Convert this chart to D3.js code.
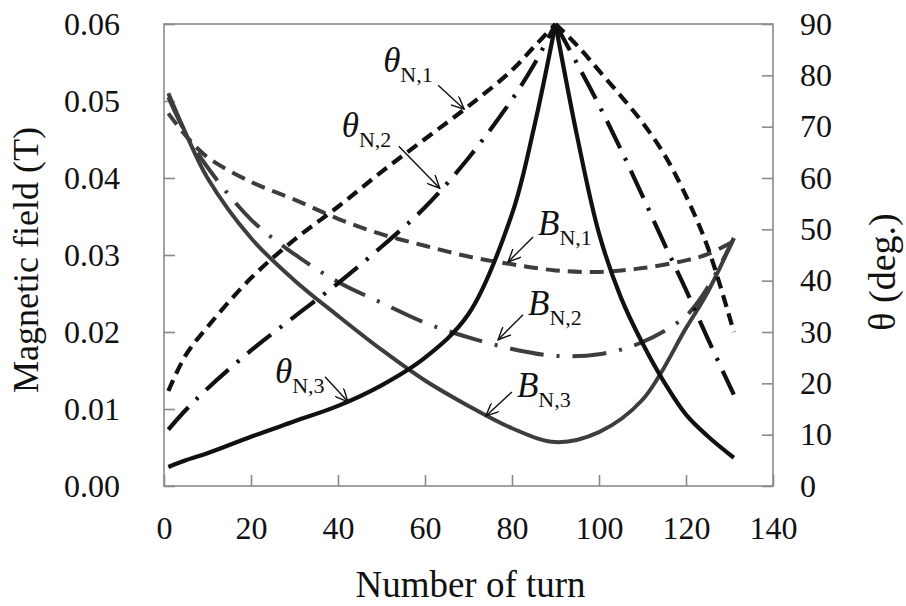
<!DOCTYPE html>
<html>
<head>
<meta charset="utf-8">
<script src="https://cdn.jsdelivr.net/npm/d3@7"></script>
<style>
  html, body { margin: 0; padding: 0; background: #fff; }
  svg { display: block; }
  svg text { font-family: "Liberation Serif", Tinos, "Times New Roman", Times, "DejaVu Serif", serif !important; fill: #111; }
</style>
</head>
<body>
<svg id="chart" width="906" height="606"></svg>
<script>
// ---------------- data ----------------
const xTicks = [0, 20, 40, 60, 80, 100, 120, 140];
const leftTicks = [0, 0.01, 0.02, 0.03, 0.04, 0.05, 0.06];
const rightTicks = [0, 10, 20, 30, 40, 50, 60, 70, 80, 90];

// turns for the angle series (peak at 90)
const thetaTurns = [1, 5, 10, 20, 30, 40, 50, 60, 70, 80, 85, 90, 95, 100, 105, 110, 115, 120, 125, 131];
const thetaN1 = [18.5, 25.5, 31, 40.5, 48, 54.4, 61.2, 67.6, 74.0, 81.0, 85.5, 90, 85.8, 80.9, 76, 70.8, 64.6, 56.5, 46.5, 30];
const thetaN2 = [11, 14.8, 19, 26.4, 33, 39.5, 46.6, 54.3, 63.9, 75.3, 82, 90, 82.2, 74.2, 65.6, 56.5, 47.2, 38.2, 28.7, 17.8];
const thetaN3 = [3.7, 5, 6.4, 9.6, 12.6, 15.6, 19.6, 25, 33.5, 53, 69.6, 90, 68, 49.2, 36.8, 27.8, 20.2, 13.9, 9.7, 5.5];

// turns for the magnetic field series
const fieldTurns = [1, 5, 10, 20, 30, 40, 50, 60, 70, 80, 90, 100, 110, 120, 125, 131];
const BN1 = [0.0484, 0.0455, 0.0427, 0.0395, 0.0372, 0.0347, 0.0327, 0.0312, 0.0298, 0.0288, 0.0280, 0.0278, 0.0283, 0.0293, 0.0301, 0.0318];
const BN2 = [0.0505, 0.0458, 0.0414, 0.0346, 0.0301, 0.0265, 0.0238, 0.0212, 0.0193, 0.0178, 0.0169, 0.0171, 0.0187, 0.0221, 0.0258, 0.0322];
const BN3 = [0.0510, 0.0458, 0.0400, 0.0322, 0.0267, 0.0221, 0.0177, 0.0137, 0.0104, 0.0075, 0.0057, 0.0070, 0.0112, 0.0205, 0.0252, 0.0322];

// annotation anchors (data coordinates of arrow tips)
const annoNames = ["θ", "θ", "θ", "B", "B", "B"];
const annoSubs = ["N,1", "N,2", "N,3", "N,1", "N,2", "N,3"];
const annoTurn = [69, 63.4, 42.3, 79.1, 76.8, 74];
const annoValue = [73.4, 58, 16.4, 0.0291, 0.0190, 0.0091];
const annoAxis = ["right", "right", "right", "left", "left", "left"];

// ---------------- layout ----------------
const FONT = '"Liberation Serif", Tinos, "Times New Roman", Times, "DejaVu Serif", serif';
const L = 164, R = 773, T = 24, B = 486;
const svg = d3.select("#chart");

const x = d3.scaleLinear().domain([0, 140]).range([L, R]);
const yL = d3.scaleLinear().domain([0, 0.06]).range([B, T]);
const yR = d3.scaleLinear().domain([0, 90]).range([B, T]);

const axisColor = "#8a8a8a";
const tickFont = 32;

// frame
svg.append("rect")
  .attr("x", L).attr("y", T).attr("width", R - L).attr("height", B - T)
  .attr("fill", "none").attr("stroke", axisColor).attr("stroke-width", 1.6);

function styleAxis(g) {
  g.attr("font-family", FONT);
  g.select(".domain").remove();
  g.selectAll(".tick line").attr("stroke", axisColor).attr("stroke-width", 1.6);
  g.selectAll(".tick text")
    .attr("font-family", FONT)
    .attr("font-size", tickFont).attr("fill", "#111");
}

svg.append("g").attr("transform", `translate(0,${B})`)
  .call(d3.axisBottom(x).tickValues(xTicks).tickFormat(d3.format("d"))
        .tickSizeInner(-11).tickSizeOuter(0).tickPadding(30))
  .call(styleAxis);

svg.append("g").attr("transform", `translate(${L},0)`)
  .call(d3.axisLeft(yL).tickValues(leftTicks).tickFormat(d3.format(".2f"))
        .tickSizeInner(-11).tickSizeOuter(0).tickPadding(44))
  .call(styleAxis);

svg.append("g").attr("transform", `translate(${R},0)`)
  .call(d3.axisRight(yR).tickValues(rightTicks).tickFormat(d3.format("d"))
        .tickSizeInner(-11).tickSizeOuter(0).tickPadding(27))
  .call(styleAxis);

// axis titles
svg.append("text")
  .attr("font-family", FONT)
  .attr("transform", `translate(38,${(T + B) / 2 + 5}) rotate(-90)`)
  .attr("text-anchor", "middle").attr("font-size", 36)
  .text("Magnetic field (T)");

svg.append("text")
  .attr("font-family", FONT)
  .attr("x", (L + R) / 2 + 2).attr("y", 597)
  .attr("text-anchor", "middle").attr("font-size", 37)
  .text("Number of turn");

svg.append("text")
  .attr("font-family", FONT)
  .attr("transform", `translate(895,272) rotate(-90)`)
  .attr("text-anchor", "middle").attr("font-size", 38)
  .text("θ (deg.)");

// ---------------- curves ----------------
const plot = svg.append("g");
const peakIdx = thetaTurns.indexOf(90);

function drawTheta(vals, dash) {
  const pts = thetaTurns.map((t, i) => [t, vals[i]]);
  const line = d3.line().x(d => x(d[0])).y(d => yR(d[1])).curve(d3.curveCatmullRom.alpha(0.5));
  [pts.slice(0, peakIdx + 1), pts.slice(peakIdx)].forEach(seg => {
    plot.append("path").attr("d", line(seg))
      .attr("fill", "none").attr("stroke", "#111").attr("stroke-width", 4.2)
      .attr("stroke-dasharray", dash).attr("stroke-linejoin", "round");
  });
}

function drawField(vals, dash) {
  const pts = fieldTurns.map((t, i) => [t, vals[i]]);
  const line = d3.line().x(d => x(d[0])).y(d => yL(d[1])).curve(d3.curveCatmullRom.alpha(0.5));
  plot.append("path").attr("d", line(pts))
    .attr("fill", "none").attr("stroke", "#3d3d3d").attr("stroke-width", 4)
    .attr("stroke-dasharray", dash).attr("stroke-linejoin", "round");
}

drawField(BN1, "14,8");
drawField(BN2, "34,13,3,13");
drawField(BN3, null);
drawTheta(thetaN1, "12,7");
drawTheta(thetaN2, "30,11,3,11");
drawTheta(thetaN3, null);

// ---------------- annotations ----------------
svg.append("defs").append("marker")
  .attr("id", "arr").attr("viewBox", "0 0 14 12").attr("refX", 13).attr("refY", 6)
  .attr("markerWidth", 14).attr("markerHeight", 12).attr("markerUnits", "userSpaceOnUse")
  .attr("orient", "auto")
  .append("path").attr("d", "M0,0 L13,6 L0,12")
  .attr("fill", "none").attr("stroke", "#111").attr("stroke-width", 1.4);

// offsets (px) of the arrow tail and label from the tip
const tailOff = [[-26, -24], [-41, -42], [-23, -25], [25, -25], [25, -25], [26, -24]];
const labelOff = [[-81, -37], [-98, -51], [-73, -19], [30, -27], [30, -25], [31, -19]];

annoNames.forEach((nm, i) => {
  const tx = x(annoTurn[i]);
  const ty = annoAxis[i] === "right" ? yR(annoValue[i]) : yL(annoValue[i]);
  svg.append("line")
    .attr("x1", tx + tailOff[i][0]).attr("y1", ty + tailOff[i][1])
    .attr("x2", tx).attr("y2", ty)
    .attr("stroke", "#111").attr("stroke-width", 1.4)
    .attr("marker-end", "url(#arr)");
  const t = svg.append("text").attr("font-family", FONT)
    .attr("x", tx + labelOff[i][0]).attr("y", ty + labelOff[i][1]);
  t.append("tspan").attr("font-style", "italic").attr("font-size", 35).text(nm);
  t.append("tspan").attr("font-size", 22).attr("dy", 10).text(annoSubs[i]);
});
</script>
</body>
</html>
